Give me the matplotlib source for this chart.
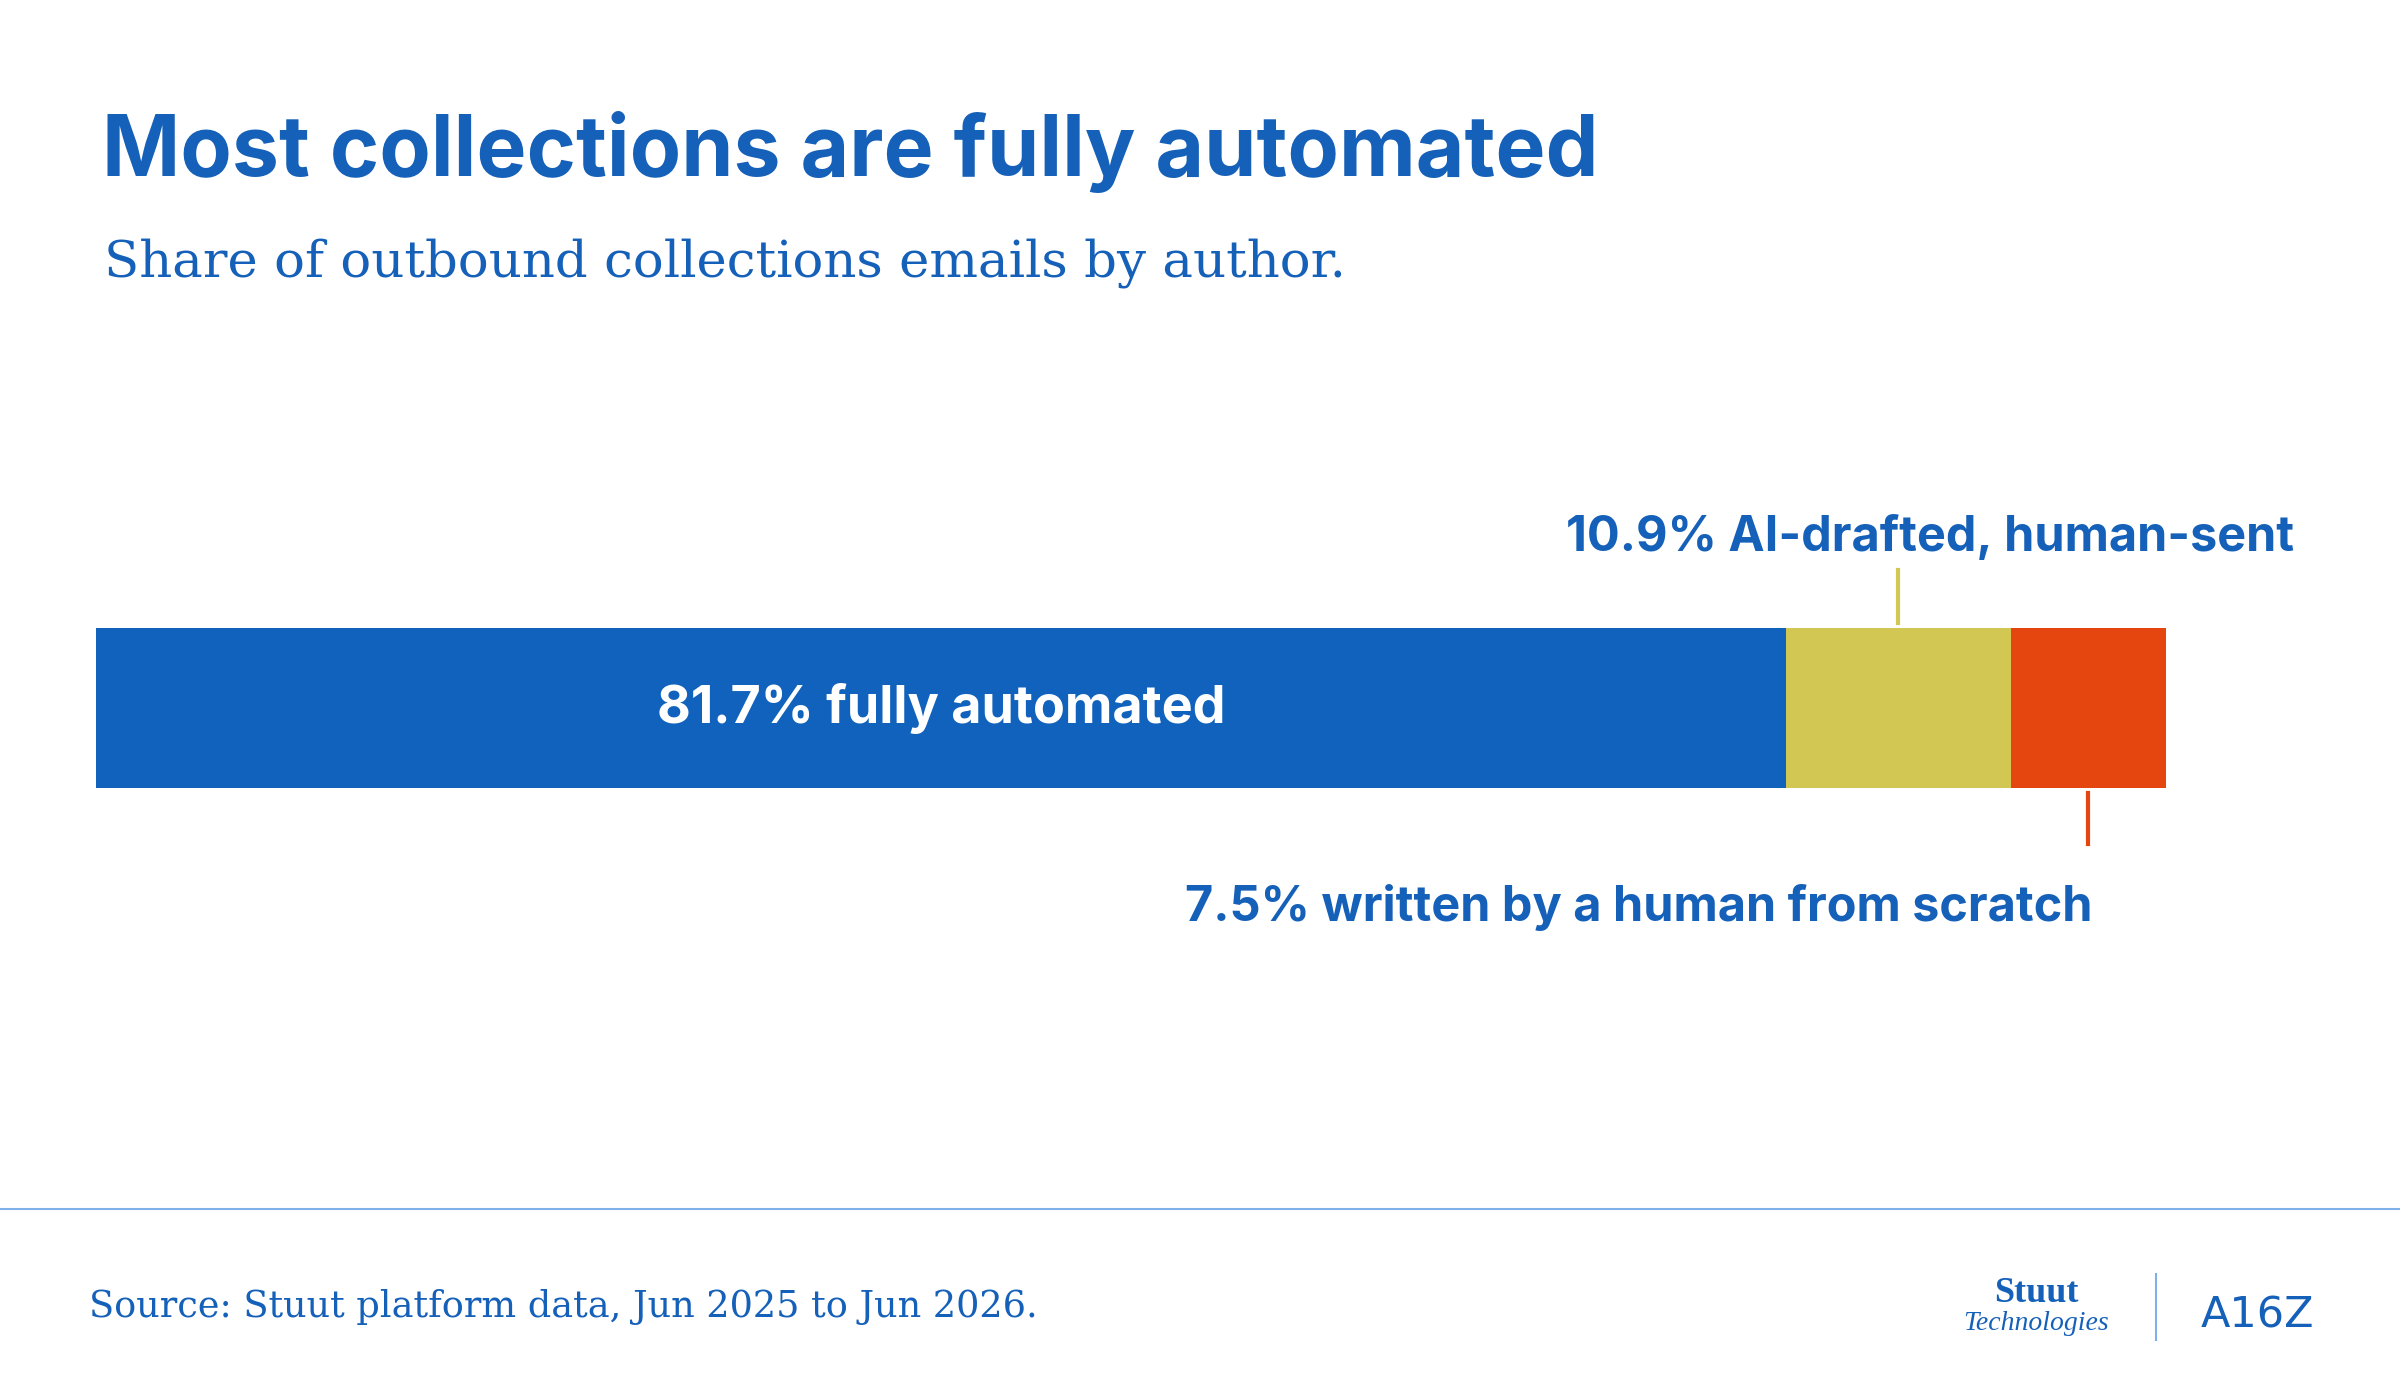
import matplotlib
matplotlib.use("Agg")
import matplotlib.pyplot as plt
import numpy as np

categories = ["fully automated", "AI-drafted, human-sent", "written by a human from scratch"]
shares = [81.7, 10.9, 7.5]
colors = ["#1162BC", "#D1C752", "#E5450E"]

BLUE = "#1560B8"
W, H = 2400, 1400

fig = plt.figure(figsize=(24, 14), dpi=100)
fig.patch.set_facecolor("white")


def px(x, y):
    return x / W, 1 - y / H


fig.text(*px(102, 176), "Most collections are fully automated", fontsize=60.5,
         fontweight="bold", color=BLUE, family="Inter", ha="left", va="baseline")
fig.text(*px(104, 276), "Share of outbound collections emails by author.", fontsize=37,
         color=BLUE, family="DejaVu Serif", ha="left", va="baseline")

ax = fig.add_axes([96 / W, 1 - 788 / H, 2070 / W, 160 / H])
lefts = np.concatenate([[0], np.cumsum(shares)[:-1]])
ax.barh([0], shares, left=lefts, height=1.0, color=colors, edgecolor="none")
ax.set_xlim(0, sum(shares))
ax.set_ylim(-0.5, 0.5)
ax.axis("off")

mids = lefts + np.array(shares) / 2
ax.text(mids[0], 0, f"{shares[0]}% {categories[0]}", color="white", fontsize=37.5,
        fontweight="bold", family="Inter", ha="center", va="center")
# upper label for second segment
ax.plot([mids[1], mids[1]], [0.53, 0.86], color=colors[1], lw=3, clip_on=False)
ax.text(100 * (2296 - 96) / 2070, 0.98, f"{shares[1]}% {categories[1]}", color=BLUE,
        fontsize=35, fontweight="bold", family="Inter", ha="right", va="baseline")
# lower label for third segment
ax.plot([mids[2], mids[2]], [-0.53, -0.85], color=colors[2], lw=3, clip_on=False)
ax.text(100 * (2094 - 96) / 2070, -1.33, f"{shares[2]}% {categories[2]}", color=BLUE,
        fontsize=35, fontweight="bold", family="Inter", ha="right", va="baseline")

# footer
fig.add_artist(plt.Line2D([0, 1], [1 - 1209 / H] * 2, color="#7FB0EA", lw=1.5))
fig.text(*px(89, 1317), "Source: Stuut platform data, Jun 2025 to Jun 2026.", fontsize=26.4,
         color=BLUE, family="DejaVu Serif", ha="left", va="baseline")
fig.text(*px(2036, 1302), "Stuut", fontsize=26, fontweight="bold", color=BLUE,
         family="Liberation Serif", ha="center", va="baseline")
fig.text(*px(2036, 1330), "Technologies", fontsize=20, style="italic", color=BLUE,
         family="Liberation Serif", ha="center", va="baseline")
fig.add_artist(plt.Line2D([2156 / W] * 2, [1 - 1274 / H, 1 - 1340 / H], color="#7FB0EA", lw=1.5))
fig.text(*px(2257, 1328), "A16Z", fontsize=31, color=BLUE, family="DejaVu Sans",
         ha="center", va="baseline")

fig.savefig("out.png", dpi=100)
